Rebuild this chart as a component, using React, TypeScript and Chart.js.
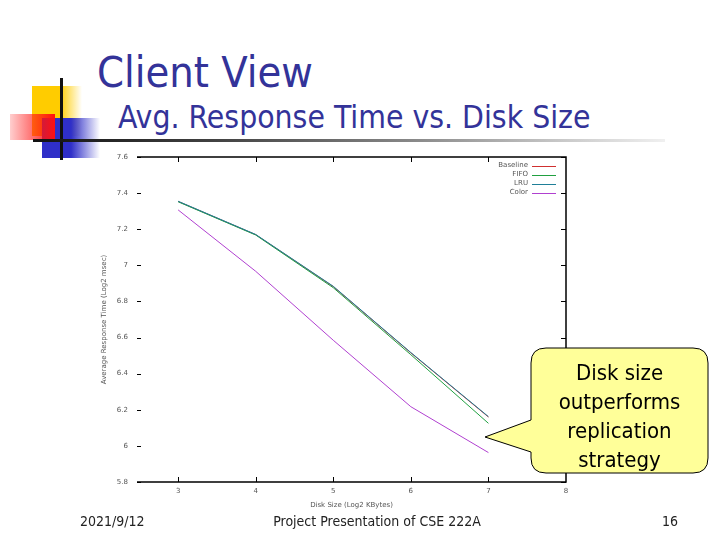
import React, { useEffect, useRef } from "react";
import { Chart, registerables } from "chart.js";

Chart.register(...registerables);

// ---- data ----
const diskSizes = [3, 4, 5, 6, 7]; // Log2 KBytes
const baselineTimes = [7.354, 7.17, 6.882, 6.515, 6.16];
const fifoTimes = [7.352, 7.168, 6.876, 6.505, 6.125];
const lruTimes = [7.355, 7.171, 6.884, 6.517, 6.162];
const colorTimes = [7.307, 6.967, 6.585, 6.217, 5.963];
const xTickValues = [3, 4, 5, 6, 7, 8];
const seriesNames = ["Baseline", "FIFO", "LRU", "Color"];
const seriesColors = ["#d03030", "#20a040", "#1f7f98", "#b040d0"];
const seriesValues = [baselineTimes, fifoTimes, lruTimes, colorTimes];
const seriesOrder = [10, 2, 1, 0];

const framePlugin = {
  id: "gnuFrame",
  afterDatasetsDraw(chart: any) {
    const { ctx, chartArea, scales } = chart;
    const { left, right, top, bottom } = chartArea;
    const x = scales.x;
    const y = scales.y;
    ctx.save();
    ctx.strokeStyle = "#000";
    ctx.lineWidth = 1.5;
    ctx.beginPath();
    ctx.moveTo(left, top);
    ctx.lineTo(right, top);
    ctx.lineTo(right, bottom);
    ctx.lineTo(left, bottom);
    ctx.stroke();
    ctx.lineWidth = 1;
    ctx.beginPath();
    x.ticks.forEach((t: any) => {
      const px = Math.round(x.getPixelForValue(t.value)) + 0.5;
      if (px < right - 2) {
        ctx.moveTo(px, bottom);
        ctx.lineTo(px, bottom - 5);
        ctx.moveTo(px, top);
        ctx.lineTo(px, top + 5);
      }
    });
    y.ticks.forEach((t: any) => {
      const py = Math.round(y.getPixelForValue(t.value)) + 0.5;
      ctx.moveTo(left, py);
      ctx.lineTo(left + 4, py);
      ctx.moveTo(right, py);
      ctx.lineTo(right - 5, py);
    });
    ctx.stroke();
    ctx.restore();
  },
};

const insideLegendPlugin = {
  id: "insideLegend",
  afterDraw(chart: any) {
    const { ctx, chartArea } = chart;
    const { right, top } = chartArea;
    ctx.save();
    ctx.font = "7px 'DejaVu Sans'";
    ctx.textAlign = "right";
    ctx.textBaseline = "middle";
    chart.data.datasets.forEach((ds: any, i: number) => {
      const yy = top + 8.5 + i * 9;
      ctx.fillStyle = "#555";
      ctx.fillText(ds.label, right - 38, yy);
      ctx.strokeStyle = ds.borderColor;
      ctx.lineWidth = 1;
      ctx.beginPath();
      ctx.moveTo(right - 34, Math.round(yy) + 0.5);
      ctx.lineTo(right - 10, Math.round(yy) + 0.5);
      ctx.stroke();
    });
    ctx.restore();
  },
};

function ChartCanvas() {
  const ref = useRef<HTMLCanvasElement | null>(null);
  useEffect(() => {
    if (!ref.current) return;
    const datasets = seriesNames.map((name, i) => ({
      label: name,
      data: diskSizes.map((d, j) => ({ x: d, y: seriesValues[i][j] })),
      borderColor: seriesColors[i],
      backgroundColor: seriesColors[i],
      borderWidth: 1,
      pointRadius: 0,
      tension: 0,
      fill: false,
      order: seriesOrder[i],
    }));
    const chart = new Chart(ref.current, {
      type: "line",
      data: { datasets },
      options: {
        animation: false,
        responsive: false,
        devicePixelRatio: 1,
        layout: { padding: { left: 100, right: 154, top: 157, bottom: 27 } },
        plugins: { legend: { display: false }, tooltip: { enabled: false } },
        scales: {
          x: {
            type: "linear",
            min: 2.47,
            max: 8,
            grid: { display: false, drawTicks: false },
            border: { display: false },
            afterBuildTicks: (scale: any) => {
              scale.ticks = xTickValues.map((v) => ({ value: v }));
            },
            afterFit: (scale: any) => {
              scale.height = 31;
            },
            ticks: {
              padding: 5,
              color: "#555",
              font: { size: 7, family: "'DejaVu Sans'" },
              maxRotation: 0,
              callback: (v: any) => String(v),
            },
            title: {
              display: true,
              text: "Disk Size (Log2 KBytes)",
              color: "#555",
              font: { size: 7, family: "'DejaVu Sans'" },
              padding: { top: 0, bottom: 4 },
            },
          },
          y: {
            type: "linear",
            min: 5.8,
            max: 7.6,
            grid: { display: false, drawTicks: false },
            border: { display: false },
            afterFit: (scale: any) => {
              scale.width = 37;
            },
            ticks: {
              stepSize: 0.2,
              padding: 9,
              color: "#555",
              font: { size: 7, family: "'DejaVu Sans'" },
              callback: (v: any) => String(Math.round(Number(v) * 10) / 10),
            },
            title: {
              display: true,
              text: "Average Response Time (Log2 msec)",
              color: "#555",
              font: { size: 7, family: "'DejaVu Sans'" },
              padding: { top: 0, bottom: 0 },
            },
          },
        },
      },
      plugins: [framePlugin, insideLegendPlugin],
    } as any);
    return () => chart.destroy();
  }, []);
  return (
    <canvas
      ref={ref}
      width={720}
      height={540}
      style={{ position: "absolute", left: 0, top: 0, width: 720, height: 540 }}
    />
  );
}

const slideFont = "'DejaVu Sans', 'Liberation Sans', sans-serif";

export default function App() {
  return (
    <div
      style={{
        position: "fixed",
        left: 0,
        top: 0,
        width: 720,
        height: 540,
        background: "#fff",
        overflow: "hidden",
        fontFamily: slideFont,
      }}
    >
      {/* decorative squares */}
      <div
        style={{
          position: "absolute",
          left: 32,
          top: 86,
          width: 50,
          height: 50,
          background: "linear-gradient(to right, #ffcc00 0%, #ffcc00 55%, rgba(255,204,0,0) 100%)",
        }}
      />
      <div
        style={{
          position: "absolute",
          left: 42,
          top: 118,
          width: 58,
          height: 40,
          background: "linear-gradient(to right, #2f2fc8 0%, #2f2fc8 50%, rgba(47,47,200,0) 100%)",
        }}
      />
      <div
        style={{
          position: "absolute",
          left: 10,
          top: 114,
          width: 45,
          height: 26,
          background: "linear-gradient(to right, rgba(255,60,60,0.25) 0%, #ff1010 100%)",
        }}
      />
      <div
        style={{ position: "absolute", left: 60, top: 78, width: 3, height: 82, background: "#111" }}
      />
      <div
        style={{
          position: "absolute",
          left: 33,
          top: 139,
          width: 632,
          height: 3,
          background: "linear-gradient(to right, #111 0%, #444 30%, #888 60%, #ccc 85%, #f0f0f0 100%)",
        }}
      />
      <div
        style={{
          position: "absolute",
          left: 97,
          top: 44,
          fontSize: 43,
          color: "#333399",
          fontStretch: "condensed",
          whiteSpace: "nowrap",
          lineHeight: "56px",
        }}
      >
        Client View
      </div>
      <div
        style={{
          position: "absolute",
          left: 118,
          top: 97,
          fontSize: 31.6,
          color: "#333399",
          fontStretch: "condensed",
          whiteSpace: "nowrap",
          lineHeight: "40px",
        }}
      >
        Avg. Response Time vs. Disk Size
      </div>

      <ChartCanvas />

      {/* callout */}
      <svg
        width={720}
        height={540}
        style={{ position: "absolute", left: 0, top: 0, pointerEvents: "none" }}
      >
        <path
          d="M 546 348 L 693 348 Q 708 348 708 363 L 708 458 Q 708 473 693 473 L 546 473 Q 531 473 531 458 L 531 452 L 485 437 L 531 420 L 531 363 Q 531 348 546 348 Z"
          fill="#ffff99"
          stroke="#000"
          strokeWidth={1}
        />
      </svg>
      <div
        style={{
          position: "absolute",
          left: 531,
          top: 358,
          width: 177,
          textAlign: "center",
          fontSize: 22,
          lineHeight: "29px",
          color: "#000",
          fontStretch: "condensed",
        }}
      >
        Disk size
        <br />
        outperforms
        <br />
        replication
        <br />
        strategy
      </div>

      {/* footer */}
      <div style={{ position: "absolute", left: 80, top: 513, fontSize: 14, color: "#222", fontStretch: "condensed" }}>
        2021/9/12
      </div>
      <div
        style={{
          position: "absolute",
          left: 227,
          width: 300,
          top: 513,
          fontSize: 14,
          color: "#222",
          textAlign: "center",
          fontStretch: "condensed",
        }}
      >
        Project Presentation of CSE 222A
      </div>
      <div style={{ position: "absolute", left: 662, top: 513, fontSize: 14, color: "#222", fontStretch: "condensed" }}>
        16
      </div>
    </div>
  );
}
